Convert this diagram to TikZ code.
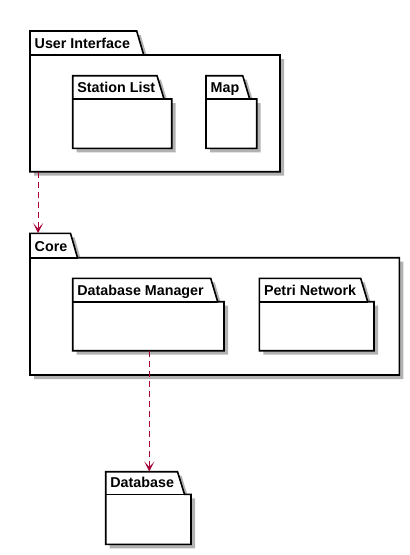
\documentclass[tikz,border=0pt]{standalone}
\usepackage{fontspec}
\setmainfont{Liberation Sans}
\usetikzlibrary{arrows.meta,fit}
\definecolor{arrowred}{HTML}{A80036}
\tikzset{
  pkgline/.style={draw=black,line width=1.6pt,line join=miter},
  pkgshadow/.style={fill=black!30},
  pkglabel/.style={font=\fontsize{14.3}{16}\selectfont\bfseries,inner sep=0pt,anchor=base west},
  dep/.style={draw=arrowred,line width=1pt,dash pattern=on 6pt off 4pt,
    -{Stealth[length=10pt,width=10pt,inset=5.5pt,sep=0pt]}},
}
% #1 name, #2 left, #3 top, #4 tab top-right x, #5 tab bottom y, #6 right, #7 bottom, #8 label
\newcommand{\umlpkg}[8]{%
  \fill[pkgshadow,xshift=4pt,yshift=-4pt] (#2,#3) -- (#4,#3) -- (#4+7,#5) -- (#6,#5) -- (#6,#7) -- (#2,#7) -- cycle;
  \draw[pkgline,fill=white] (#2,#3) -- (#4,#3) -- (#4+7,#5) -- (#6,#5) -- (#6,#7) -- (#2,#7) -- cycle;
  \draw[pkgline] (#2,#5) -- (#4+7,#5);
  \node[pkglabel] (#1-label) at (#2+4.5,#5-6.5) {#8};
  \coordinate (#1-nw) at (#2,#3);
  \coordinate (#1-se) at (#6,#7);
  \node[inner sep=0pt,fit=(#1-nw)(#1-se)] (#1) {};
}
\begin{document}
\begin{tikzpicture}[x=1pt,y=-1pt]
\useasboundingbox[fill=white] (0,0) rectangle (410,555);
\umlpkg{ui}{30}{31}{136.7}{55}{280}{171.7}{User Interface}
\umlpkg{stl}{72.7}{75.7}{157}{99}{171.7}{148.3}{Station List}
\umlpkg{map}{206}{75.7}{242.7}{99}{256.7}{148.3}{Map}
\umlpkg{core}{30}{233.3}{70.5}{257.7}{399.3}{375}{Core}
\umlpkg{dbm}{72.7}{278.3}{210.7}{301.7}{224}{350.7}{Database Manager}
\umlpkg{petri}{259.3}{278.3}{360.7}{301.7}{374}{350.7}{Petri Network}
\umlpkg{db}{105.7}{471.7}{177.5}{494.3}{191}{544.3}{Database}
\draw[dep] ([xshift=8.3pt]ui.south west) -- ([xshift=8.3pt]core.north west);
\draw[dep] ([xshift=1pt]dbm.south) -- ([xshift=1pt]db.north);
\end{tikzpicture}
\end{document}
